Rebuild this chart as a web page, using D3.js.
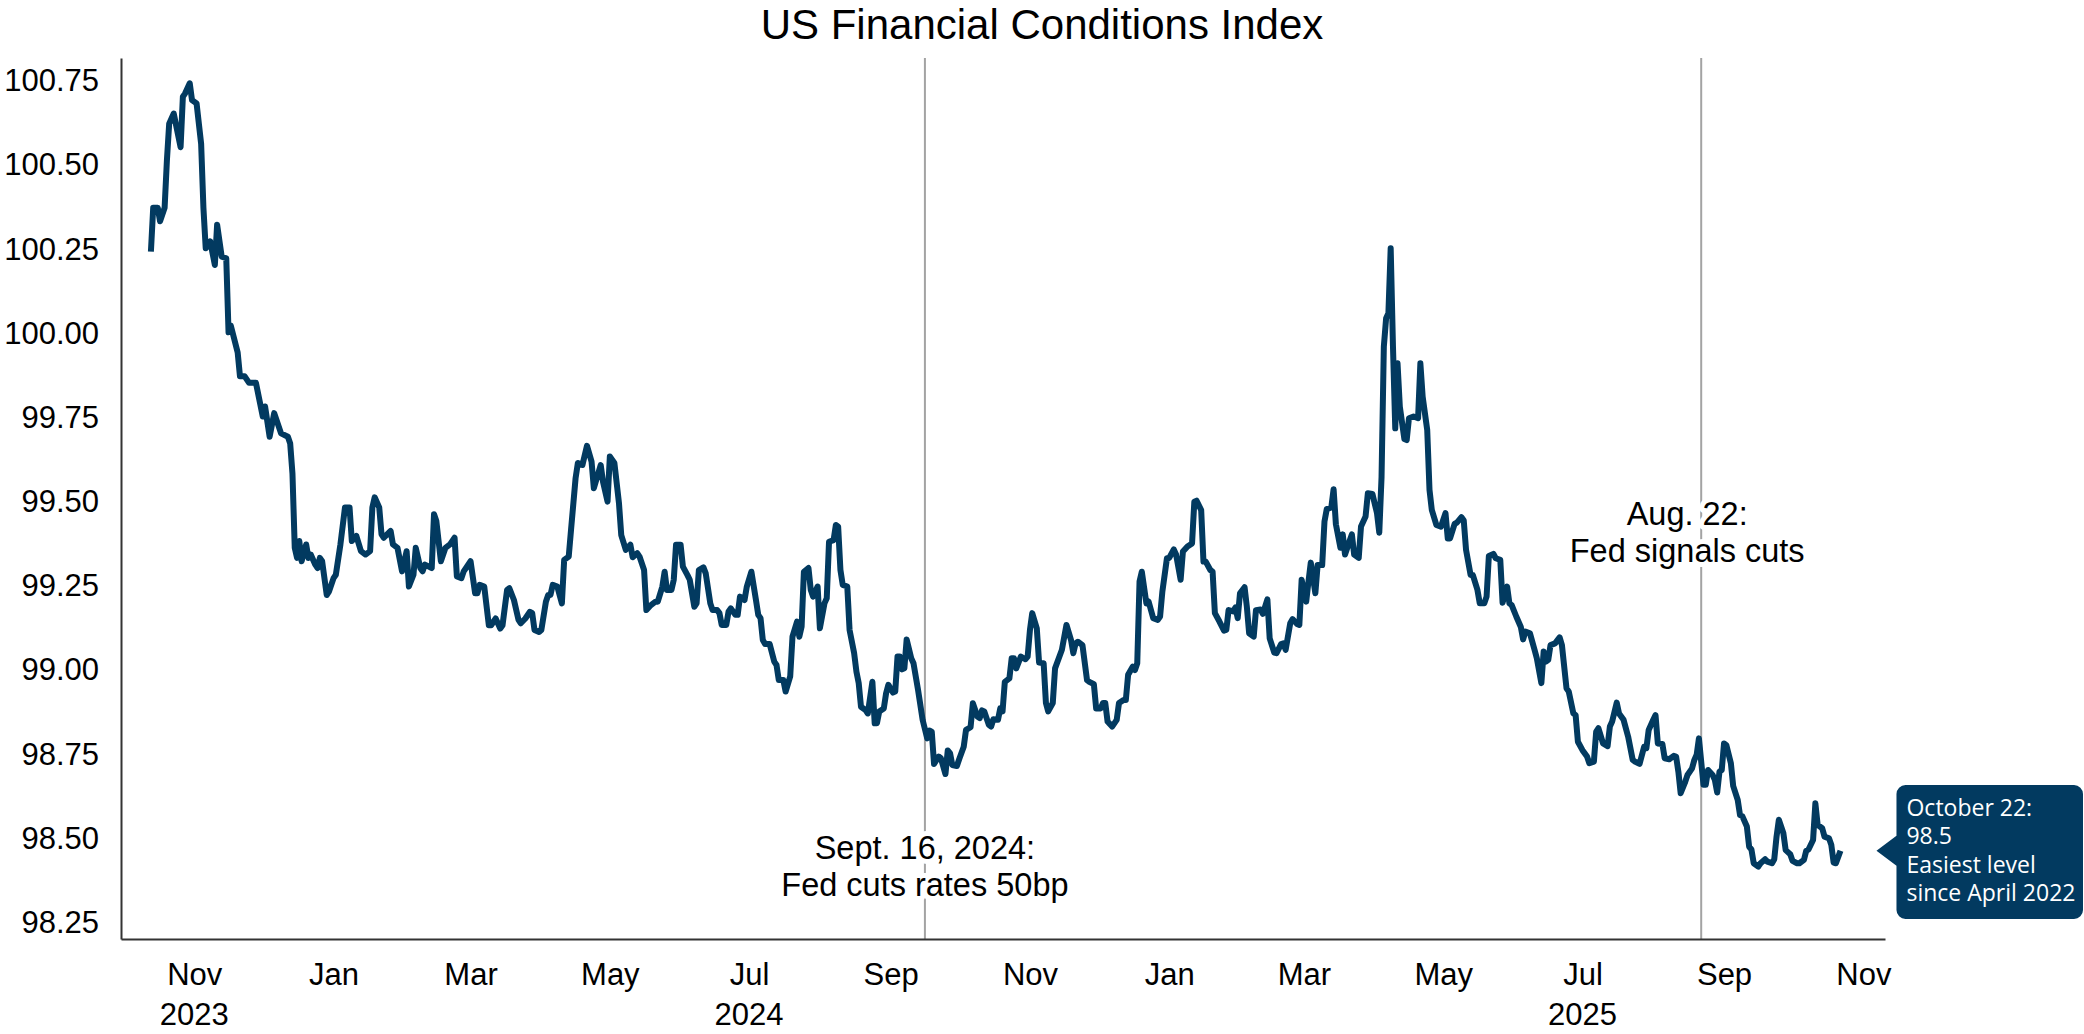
<!DOCTYPE html>
<html>
<head>
<meta charset="utf-8">
<title>US Financial Conditions Index</title>
<script src="https://cdn.jsdelivr.net/npm/d3@7"></script>
<style>
  html, body { margin: 0; padding: 0; background: #ffffff; }
  svg { display: block; }
</style>
</head>
<body>
<svg id="chart" width="2084" height="1034"></svg>
<script>
// ---- Data -------------------------------------------------------------
// Daily index readings; dates are given as day offsets from the first observation.
const seriesStart = "2023-10-13";

const dayOffsets = [
  0, 1, 3, 4, 6, 7, 8, 10, 13, 14, 15, 17, 18, 20, 22, 23, 24, 26, 28, 29,
  31, 33, 34, 35, 38, 39, 41, 43, 46, 49, 50, 52, 54, 57, 60, 61, 62, 63, 64, 65,
  66, 68, 69, 70, 72, 73, 74, 75, 77, 78, 80, 81, 83, 85, 87, 88, 90, 92, 94, 96,
  97, 98, 100, 101, 102, 105, 106, 108, 110, 112, 113, 115, 116, 118, 119, 120, 123, 124, 125, 127,
  129, 131, 133, 134, 136, 137, 140, 142, 143, 144, 146, 148, 149, 151, 153, 154, 156, 157, 159, 161,
  162, 164, 166, 167, 168, 170, 171, 173, 174, 175, 176, 178, 180, 181, 183, 184, 186, 187, 189, 191,
  193, 194, 197, 198, 200, 201, 203, 205, 206, 208, 210, 211, 213, 214, 216, 217, 219, 221, 222, 224,
  225, 226, 228, 229, 230, 232, 233, 235, 236, 238, 239, 240, 242, 243, 245, 246, 248, 249, 250, 252,
  253, 254, 256, 257, 258, 260, 261, 263, 265, 266, 267, 268, 269, 271, 273, 274, 275, 277, 278, 280,
  281, 283, 284, 285, 286, 288, 289, 290, 292, 293, 295, 296, 297, 299, 300, 301, 302, 303, 305, 306,
  308, 309, 310, 311, 313, 314, 316, 317, 318, 319, 321, 322, 323, 325, 326, 327, 328, 329, 330, 331,
  333, 334, 336, 338, 340, 341, 342, 343, 345, 346, 348, 349, 350, 351, 353, 354, 356, 357, 359, 360,
  362, 363, 364, 365, 367, 368, 369, 371, 372, 373, 374, 376, 377, 378, 379, 381, 383, 384, 385, 386,
  388, 389, 391, 392, 393, 395, 396, 399, 401, 403, 404, 405, 406, 408, 410, 411, 413, 414, 416, 417,
  418, 419, 421, 423, 424, 426, 427, 428, 430, 431, 432, 433, 434, 436, 437, 439, 441, 442, 443, 445,
  446, 448, 449, 451, 452, 454, 456, 457, 458, 460, 461, 462, 464, 465, 466, 468, 470, 471, 472, 474,
  475, 476, 477, 479, 480, 481, 483, 484, 486, 487, 489, 490, 492, 493, 495, 496, 497, 499, 500, 502,
  503, 504, 506, 507, 508, 510, 511, 513, 514, 515, 517, 518, 519, 521, 522, 523, 525, 526, 527, 529,
  530, 532, 533, 535, 537, 538, 539, 540, 541, 542, 543, 544, 545, 546, 547, 549, 550, 551, 553, 555,
  556, 557, 559, 560, 561, 563, 565, 566, 567, 568, 569, 571, 572, 574, 575, 576, 578, 579, 581, 582,
  584, 585, 586, 588, 589, 591, 592, 594, 595, 596, 598, 600, 601, 602, 604, 606, 607, 609, 610, 611,
  612, 613, 615, 617, 618, 620, 621, 623, 624, 625, 627, 629, 630, 632, 633, 634, 636, 638, 639, 640,
  642, 643, 645, 647, 649, 650, 652, 654, 655, 656, 658, 659, 660, 662, 663, 665, 667, 668, 669, 670,
  672, 673, 675, 676, 677, 678, 680, 681, 682, 684, 685, 686, 687, 688, 689, 690, 692, 693, 695, 696,
  697, 699, 700, 701, 702, 704, 705, 707, 708, 710, 711, 712, 713, 715, 716, 718, 719, 721, 722, 724,
  725, 726, 728, 729, 730, 732, 733, 735, 736, 737, 738, 740
];

const fciValues = [
  100.24, 100.37, 100.37, 100.33, 100.37, 100.51, 100.62, 100.65, 100.55, 100.70, 100.71, 100.74, 100.69, 100.68, 100.56, 100.37, 100.25, 100.27, 100.20, 100.32,
  100.225, 100.22, 100.00, 100.02, 99.94, 99.87, 99.87, 99.85, 99.85, 99.75, 99.78, 99.69, 99.76, 99.70, 99.69, 99.67, 99.58, 99.36, 99.33, 99.38,
  99.32, 99.37, 99.33, 99.34, 99.31, 99.30, 99.33, 99.32, 99.22, 99.23, 99.27, 99.28, 99.37, 99.48, 99.48, 99.38, 99.395, 99.35, 99.34, 99.35,
  99.48, 99.51, 99.48, 99.40, 99.39, 99.41, 99.37, 99.36, 99.29, 99.35, 99.245, 99.28, 99.36, 99.30, 99.29, 99.31, 99.30, 99.46, 99.44, 99.32,
  99.36, 99.37, 99.39, 99.275, 99.27, 99.29, 99.32, 99.225, 99.225, 99.25, 99.245, 99.13, 99.13, 99.15, 99.12, 99.13, 99.235, 99.24, 99.205, 99.146,
  99.136, 99.15, 99.17, 99.166, 99.116, 99.11, 99.116, 99.20, 99.22, 99.22, 99.25, 99.245, 99.195, 99.324, 99.334, 99.413, 99.567, 99.612, 99.606, 99.663,
  99.616, 99.537, 99.606, 99.557, 99.497, 99.631, 99.612, 99.493, 99.398, 99.354, 99.369, 99.332, 99.344, 99.334, 99.294, 99.175, 99.19, 99.20, 99.20, 99.245,
  99.289, 99.235, 99.235, 99.265, 99.369, 99.369, 99.304, 99.279, 99.265, 99.185, 99.195, 99.294, 99.302, 99.284, 99.195, 99.175, 99.175, 99.166, 99.131, 99.131,
  99.171, 99.18, 99.161, 99.161, 99.215, 99.205, 99.245, 99.289, 99.205, 99.161, 99.151, 99.086, 99.074, 99.074, 99.022, 99.012, 98.967, 98.967, 98.933, 98.978,
  99.096, 99.141, 99.096, 99.126, 99.289, 99.30, 99.235, 99.215, 99.245, 99.121, 99.195, 99.21, 99.378, 99.383, 99.428, 99.423, 99.294, 99.25, 99.245, 99.116,
  99.047, 98.992, 98.958, 98.888, 98.878, 98.868, 98.962, 98.839, 98.839, 98.874, 98.883, 98.928, 98.953, 98.93, 98.933, 99.037, 99.037, 98.999, 99.002, 99.088,
  99.032, 99.017, 98.938, 98.849, 98.794, 98.817, 98.814, 98.718, 98.74, 98.735, 98.688, 98.758, 98.75, 98.715, 98.712, 98.732, 98.769, 98.819, 98.827, 98.898,
  98.859, 98.854, 98.877, 98.874, 98.834, 98.829, 98.851, 98.849, 98.883, 98.874, 98.962, 98.972, 99.032, 99.032, 99.002, 99.037, 99.029, 99.037, 99.116, 99.166,
  99.121, 99.019, 99.017, 98.899, 98.874, 98.899, 99.002, 99.057, 99.131, 99.086, 99.047, 99.076, 99.081, 99.071, 98.967, 98.962, 98.955, 98.883, 98.883, 98.899,
  98.899, 98.844, 98.829, 98.849, 98.899, 98.908, 98.908, 98.983, 99.007, 98.997, 99.017, 99.26, 99.289, 99.195, 99.20, 99.151, 99.146, 99.156, 99.23, 99.329,
  99.33, 99.355, 99.34, 99.265, 99.349, 99.364, 99.373, 99.497, 99.50, 99.472, 99.319, 99.319, 99.294, 99.289, 99.166, 99.141, 99.114, 99.116, 99.175, 99.171,
  99.183, 99.151, 99.225, 99.243, 99.185, 99.106, 99.096, 99.175, 99.177, 99.164, 99.207, 99.091, 99.049, 99.047, 99.074, 99.076, 99.057, 99.136, 99.148, 99.134,
  99.131, 99.265, 99.20, 99.26, 99.316, 99.225, 99.309, 99.309, 99.438, 99.475, 99.48, 99.534, 99.43, 99.36, 99.40, 99.34, 99.38, 99.40, 99.34, 99.33,
  99.423, 99.453, 99.522, 99.52, 99.463, 99.405, 99.571, 99.958, 100.042, 100.057, 100.25, 99.958, 99.715, 99.908, 99.779, 99.683, 99.68, 99.745, 99.75, 99.745,
  99.908, 99.809, 99.71, 99.532, 99.473, 99.428, 99.423, 99.443, 99.463, 99.388, 99.388, 99.431, 99.435, 99.451, 99.441, 99.354, 99.279, 99.279, 99.235, 99.195,
  99.195, 99.215, 99.336, 99.342, 99.329, 99.324, 99.197, 99.245, 99.195, 99.19, 99.156, 99.125, 99.088, 99.111, 99.106, 99.057, 99.032, 98.958, 99.052, 99.022,
  99.027, 99.071, 99.076, 99.094, 99.071, 98.943, 98.933, 98.868, 98.863, 98.784, 98.759, 98.74, 98.72, 98.725, 98.814, 98.824, 98.779, 98.771, 98.829, 98.844,
  98.90, 98.868, 98.849, 98.799, 98.73, 98.725, 98.718, 98.769, 98.765, 98.819, 98.849, 98.863, 98.779, 98.777, 98.735, 98.732, 98.742, 98.74, 98.695, 98.631,
  98.665, 98.685, 98.705, 98.73, 98.745, 98.794, 98.656, 98.656, 98.70, 98.685, 98.67, 98.633, 98.695, 98.70, 98.779, 98.774, 98.72, 98.653, 98.611, 98.566,
  98.563, 98.532, 98.472, 98.464, 98.423, 98.413, 98.423, 98.435, 98.428, 98.423, 98.435, 98.502, 98.552, 98.512, 98.462, 98.45, 98.43, 98.423, 98.423, 98.433,
  98.46, 98.464, 98.492, 98.601, 98.537, 98.527, 98.502, 98.497, 98.477, 98.425, 98.423, 98.46
];

// Axis ticks
const yTicks = [98.25, 98.5, 98.75, 99.0, 99.25, 99.5, 99.75, 100.0, 100.25, 100.5, 100.75];
const monthTickDates = [
  "2023-11-01", "2024-01-01", "2024-03-01", "2024-05-01", "2024-07-01", "2024-09-01", "2024-11-01",
  "2025-01-01", "2025-03-01", "2025-05-01", "2025-07-01", "2025-09-01", "2025-11-01"
];
const monthTickLabels = ["Nov", "Jan", "Mar", "May", "Jul", "Sep", "Nov", "Jan", "Mar", "May", "Jul", "Sep", "Nov"];
const yearTickDates = ["2023-11-01", "2024-07-01", "2025-07-01"];
const yearTickLabels = ["2023", "2024", "2025"];

// Policy events marked with vertical rules
const eventDates = ["2024-09-16", "2025-08-22"];
const eventLabels = [["Sept. 16, 2024:", "Fed cuts rates 50bp"], ["Aug. 22:", "Fed signals cuts"]];

// Last-reading callout
const calloutDateLabel = "October 22:";
const calloutNote = ["Easiest level", "since April 2022"];

const chartTitle = "US Financial Conditions Index";

// ---- Layout -----------------------------------------------------------
const W = 2084, H = 1034;
const plot = { left: 121, right: 1885, top: 58, bottom: 939 };
const navy = "#023a60";
const textFont = "'Liberation Sans', Arial, Helvetica, sans-serif";

const parseDate = d3.timeParse("%Y-%m-%d");
const start = parseDate(seriesStart);
const dayMs = 864e5;
const addDays = (d, n) => new Date(d.getTime() + n * dayMs);

const series = dayOffsets.map((off, i) => ({ date: addDays(start, off), value: fciValues[i] }));

const x = d3.scaleTime()
  .domain([addDays(start, -13.1), addDays(start, 759.5)])
  .range([plot.left, plot.right]);

const y = d3.scaleLinear()
  .domain([98.198, 100.815])
  .range([plot.bottom, plot.top]);

const svg = d3.select("#chart");

svg.append("rect").attr("width", W).attr("height", H).attr("fill", "#ffffff");

// Title
svg.append("text")
  .attr("x", 1042).attr("y", 39)
  .attr("text-anchor", "middle")
  .attr("font-family", textFont)
  .attr("font-size", 42)
  .attr("fill", "#000")
  .text(chartTitle);

// Event rules (behind the series)
const evG = svg.append("g");
eventDates.forEach(ds => {
  const ex = x(parseDate(ds));
  evG.append("line")
    .attr("x1", ex).attr("x2", ex)
    .attr("y1", plot.top).attr("y2", plot.bottom)
    .attr("stroke", "#a3a3a3").attr("stroke-width", 2);
});

// Y axis
const yAxis = svg.append("g")
  .attr("transform", `translate(${plot.left},0)`)
  .call(d3.axisLeft(y).tickValues(yTicks).tickSize(0).tickSizeOuter(0).tickPadding(22)
    .tickFormat(d3.format(".2f")));
yAxis.select(".domain").attr("stroke", "#333").attr("stroke-width", 2);
yAxis.selectAll("text")
  .attr("font-family", textFont).attr("font-size", 31).attr("fill", "#000")
  .attr("dy", "0.35em");

// X axis (month labels)
const xAxis = svg.append("g")
  .attr("transform", `translate(0,${plot.bottom})`)
  .call(d3.axisBottom(x)
    .tickValues(monthTickDates.map(parseDate))
    .tickSize(0).tickSizeOuter(0).tickPadding(24)
    .tickFormat((d, i) => monthTickLabels[i]));
xAxis.select(".domain").attr("stroke", "#333").attr("stroke-width", 2);
xAxis.selectAll("text")
  .attr("font-family", textFont).attr("font-size", 31).attr("fill", "#000");

// Year labels under selected months
svg.append("g").selectAll("text")
  .data(yearTickDates)
  .join("text")
  .attr("x", d => x(parseDate(d)))
  .attr("y", 1025)
  .attr("text-anchor", "middle")
  .attr("font-family", textFont).attr("font-size", 31).attr("fill", "#000")
  .text((d, i) => yearTickLabels[i]);

// Event labels
const labelPos = [
  { dx: 0, y0: 859 },
  { dx: -14, y0: 525 }
];
eventDates.forEach((ds, i) => {
  const ex = x(parseDate(ds)) + labelPos[i].dx;
  const t = svg.append("text")
    .attr("text-anchor", "middle")
    .attr("font-family", textFont).attr("font-size", 32.5).attr("fill", "#000")
    .attr("stroke", "#fff").attr("stroke-width", 10).attr("paint-order", "stroke")
    .attr("stroke-linejoin", "round");
  eventLabels[i].forEach((line, j) => {
    t.append("tspan").attr("x", ex).attr("y", labelPos[i].y0 + j * 37).text(line);
  });
});

// Series line
const line = d3.line()
  .x(d => x(d.date))
  .y(d => y(d.value));

svg.append("path")
  .datum(series)
  .attr("fill", "none")
  .attr("stroke", navy)
  .attr("stroke-width", 6)
  .attr("stroke-linejoin", "round")
  .attr("d", line);

// Callout for the latest reading
const last = series[series.length - 1];
const tipX = x(last.date) + 36;
const tipY = y(last.value);
const box = { x0: tipX + 20, x1: 2083, y0: 785, y1: 919, r: 9 };
const calloutPath = d3.path();
calloutPath.moveTo(box.x0 + box.r, box.y0);
calloutPath.lineTo(box.x1 - box.r, box.y0);
calloutPath.arcTo(box.x1, box.y0, box.x1, box.y0 + box.r, box.r);
calloutPath.lineTo(box.x1, box.y1 - box.r);
calloutPath.arcTo(box.x1, box.y1, box.x1 - box.r, box.y1, box.r);
calloutPath.lineTo(box.x0 + box.r, box.y1);
calloutPath.arcTo(box.x0, box.y1, box.x0, box.y1 - box.r, box.r);
calloutPath.lineTo(box.x0, tipY + 15);
calloutPath.lineTo(tipX, tipY);
calloutPath.lineTo(box.x0, tipY - 15);
calloutPath.lineTo(box.x0, box.y0 + box.r);
calloutPath.arcTo(box.x0, box.y0, box.x0 + box.r, box.y0, box.r);
calloutPath.closePath();

svg.append("path").attr("d", calloutPath.toString()).attr("fill", navy);

const calloutLines = [calloutDateLabel, d3.format(".1f")(last.value), ...calloutNote];
const ct = svg.append("text")
  .attr("font-family", "'Open Sans', 'Noto Sans', sans-serif")
  .attr("font-size", 23)
  .attr("fill", "#fff");
calloutLines.forEach((s, j) => {
  ct.append("tspan").attr("x", box.x0 + 10).attr("y", 816 + j * 28.4).text(s);
});
</script>
</body>
</html>
